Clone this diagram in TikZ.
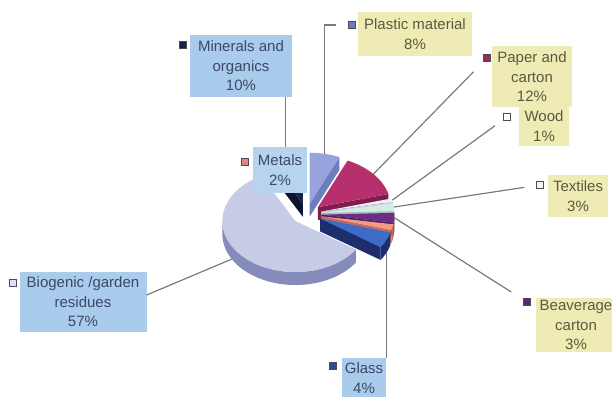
\documentclass[tikz,border=0pt]{standalone}
\usepackage{fontspec}
\setmainfont{Liberation Sans}
\usetikzlibrary{calc}

\definecolor{boxblue}{HTML}{A9CCEC}
\definecolor{boxyel}{HTML}{EFEBB4}
\definecolor{txtblue}{HTML}{3C4868}
\definecolor{txtyel}{HTML}{5A5A40}
\definecolor{leadgray}{HTML}{7A7A7A}
\definecolor{keyline}{HTML}{4A4A5A}
% slice colours: top face / side
\definecolor{minc}{HTML}{1A2048}\definecolor{mind}{HTML}{0E1330}
\definecolor{plac}{HTML}{97A3DA}\definecolor{plad}{HTML}{6E7CC0}
\definecolor{papc}{HTML}{B5306C}\definecolor{papd}{HTML}{7E1E4C}
\definecolor{woodc}{HTML}{F0F0F8}\definecolor{woodd}{HTML}{C8C8D8}
\definecolor{texc}{HTML}{D4ECE6}\definecolor{texd}{HTML}{A0C4BC}
\definecolor{bevc}{HTML}{6E2C86}\definecolor{bevd}{HTML}{4C1C60}
\definecolor{metc}{HTML}{F29A86}\definecolor{metd}{HTML}{C86A5A}
\definecolor{glac}{HTML}{3D6CC8}\definecolor{glad}{HTML}{1C2E6E}
\definecolor{bioc}{HTML}{C6CBE6}\definecolor{biod}{HTML}{858CBC}

\begin{document}
\begin{tikzpicture}[x=1pt,y=1pt,
    lblue/.style={fill=boxblue,text=txtblue,align=center,inner sep=0pt,
      font=\fontsize{15}{19.5}\selectfont},
    lyel/.style={lblue,fill=boxyel,text=txtyel},
    legendkey/.style={draw=keyline,line width=0.8pt,minimum size=7pt,inner sep=0pt},
    leader/.style={draw=leadgray,line width=1.2pt}]

    \useasboundingbox (0,0) rectangle (612,396);

    % Pie centre, exploded slice origins and rim points
    \coordinate (c) at (306.5,182);
    \foreach \nm/\a/\b in {minerals/90/118, plastic/66/90, paper/15/66,
        wood/11/15, textiles/2/11, beaverage/-9/2, metals/-16/-9,
        glass/-34/-16, biogenic/118/326} {
      \pgfmathsetmacro{\m}{(\a+\b)/2}
      \coordinate (\nm-o) at ($(c)+(\m:15 and 10.5)$);
      \coordinate (\nm-rim) at ($(\nm-o)+(\m:73 and 51)$);
    }

    % Data labels
    \node[lblue,minimum width=102,minimum height=62] (minerals) at (241,330) {Minerals and\\organics\\10\%};
    \node[lyel,minimum width=114,minimum height=44] (plastic) at (415,362) {Plastic material\\8\%};
    \node[lyel,minimum width=80,minimum height=61] (paper) at (532,319) {Paper and\\carton\\12\%};
    \node[lyel,minimum width=50,minimum height=40] (wood) at (544,270) {Wood\\1\%};
    \node[lyel,minimum width=60,minimum height=42] (textiles) at (578,200) {Textiles\\3\%};
    \node[lyel,minimum width=80,minimum height=54] (beaverage) at (576,71) {Beaverage\\carton\\3\%};
    \node[lblue,minimum width=44,minimum height=40] (glass) at (364,18) {Glass\\4\%};
    \node[lblue,minimum width=127,minimum height=60] (biogenic) at (83,94) {Biogenic /garden\\residues\\57\%};

    % Legend keys
    \node[legendkey,fill=minc] (minerals-key) at (183,351) {};
    \node[legendkey,fill=plad] (plastic-key) at (352,371) {};
    \node[legendkey,fill=papc!85!black] (paper-key) at (487,338) {};
    \node[legendkey,fill=white] (wood-key) at (507,279) {};
    \node[legendkey,fill=texc!40!white] (textiles-key) at (540,211) {};
    \node[legendkey,fill=bevc!85!black] (beaverage-key) at (527,94) {};
    \node[legendkey,fill=glac!70!black] (glass-key) at (333,30) {};
    \node[legendkey,fill=bioc!60!white] (biogenic-key) at (13,113) {};

    % Leader lines
    \draw[leader] (minerals-rim) -- (minerals-rim |- minerals.south);
    \draw[leader,shorten >=12pt] (plastic-rim) |- (plastic-key);
    \draw[leader,shorten >=14pt] (paper-rim) -- (paper-key);
    \draw[leader,shorten >=10pt] (wood-rim) -- (wood-key);
    \draw[leader,shorten >=12pt] (textiles-rim) -- (textiles-key);
    \draw[leader,shorten >=14pt] (beaverage-rim) -- (beaverage-key);
    \draw[leader] (glass-rim) -- (glass-rim |- glass.north);
    \draw[leader] (biogenic-rim) -- ([yshift=7pt]biogenic.east);

    % 3D slices, back to front
    \foreach \nm/\a/\b/\sa/\sb/\topc/\sidec in {
        minerals/90/118/0/0/minc/mind,
        plastic/66/90/0/0/plac/plad,
        paper/15/66/0/0/papc/papd,
        wood/11/15/0/0/woodc/woodd,
        textiles/2/11/0/0/texc/texd,
        beaverage/-9/2/-9/0/bevc/bevd,
        metals/-16/-9/-16/-9/metc/metd,
        glass/-34/-16/-34/-16/glac/glad,
        biogenic/118/326/180/326/bioc/biod} {
      \pgfmathtruncatemacro{\fa}{cos(\a)>0.01}
      \pgfmathtruncatemacro{\fb}{cos(\b)<-0.01}
      \ifnum\fa=1
        \fill[\sidec] (\nm-o) -- ++(\a:73 and 51) -- ++(0,-13) -- ($(\nm-o)+(0,-13)$) -- cycle;
      \fi
      \ifnum\fb=1
        \fill[\sidec] (\nm-o) -- ++(\b:73 and 51) -- ++(0,-13) -- ($(\nm-o)+(0,-13)$) -- cycle;
      \fi
      \ifdim \sa pt<\sb pt
        \fill[\sidec] ($(\nm-o)+(\sa:73 and 51)$)
          arc[start angle=\sa,end angle=\sb,x radius=73,y radius=51]
          -- ++(0,-13) arc[start angle=\sb,end angle=\sa,x radius=73,y radius=51] -- cycle;
      \fi
      \fill[\topc] (\nm-o) -- ++(\a:73 and 51)
        arc[start angle=\a,end angle=\b,x radius=73,y radius=51] -- cycle;
    }

    % Metals label sits on the pie
    \node[lblue,fill=boxblue!85!white,minimum width=54,minimum height=46] (metals) at (280,226) {Metals\\2\%};
    \node[legendkey,fill=metc!90!black] (metals-key) at (245,234) {};

\end{tikzpicture}
\end{document}
